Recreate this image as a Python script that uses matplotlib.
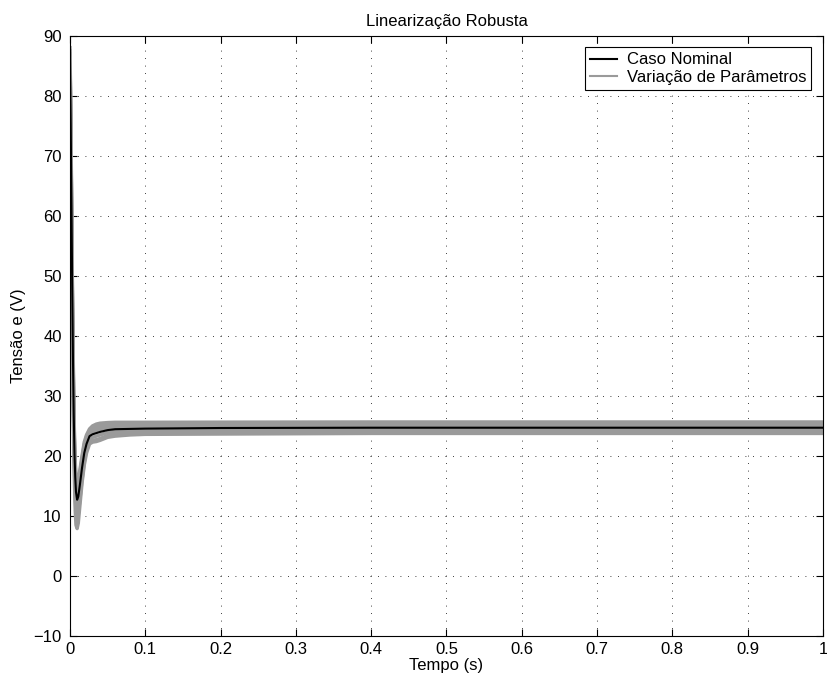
import matplotlib
matplotlib.use('Agg')
import matplotlib.pyplot as plt

plt.rcParams['font.family'] = ['Liberation Sans', 'DejaVu Sans']
plt.rcParams['font.size'] = 12

# tempo (s)
t = [0, 0.001, 0.002, 0.003, 0.004, 0.005, 0.006, 0.007, 0.008, 0.0095, 0.011, 0.013,
     0.016, 0.019, 0.022, 0.026, 0.03, 0.035, 0.04, 0.05, 0.06, 0.08, 0.1, 0.2, 0.4, 1.0]

# caso nominal
nominal = [86, 75, 62, 48, 36, 27, 20.5, 16.5, 14, 12.7, 13.2, 15,
           18, 20.5, 22, 23.3, 23.6, 23.8, 24.0, 24.3, 24.45, 24.5, 24.55, 24.65, 24.7, 24.7]

# variacao de parametros
var1 = [88, 78, 65, 51, 39, 30, 23, 19, 16.5, 15.5, 16, 17.5,
        20, 22.3, 23.5, 24.5, 25, 25.3, 25.45, 25.55, 25.6, 25.6, 25.6, 25.62, 25.65, 25.65]
var2 = [87.5, 77, 64, 50, 38, 29, 22.3, 18.3, 15.8, 14.8, 15.3, 16.9,
        19.5, 21.9, 23.2, 24.2, 24.7, 25.0, 25.15, 25.3, 25.35, 25.35, 25.38, 25.4, 25.4, 25.4]
var3 = [87, 76, 63, 49, 37, 28, 21.5, 17.5, 15, 14, 14.5, 16.3,
        19, 21.4, 22.8, 23.9, 24.3, 24.6, 24.8, 25.0, 25.05, 25.1, 25.1, 25.12, 25.15, 25.15]
var4 = [86.5, 75.5, 62.5, 48.5, 36.5, 27.5, 21, 17, 14.5, 13.3, 13.8, 15.6,
        18.5, 21, 22.4, 23.6, 23.9, 24.2, 24.4, 24.65, 24.75, 24.8, 24.82, 24.85, 24.9, 24.9]
var5 = [85.5, 74, 60.5, 46.5, 34.5, 25.5, 19, 14.8, 12.2, 11.1, 11.7, 13.8,
        17, 19.8, 21.5, 22.9, 23.1, 23.3, 23.5, 23.9, 24.1, 24.2, 24.3, 24.35, 24.45, 24.45]
var6 = [85, 73, 59, 45, 33, 24, 17.5, 13, 10.5, 9.5, 10.2, 12.5,
        16, 19, 21, 22.4, 22.6, 22.7, 22.9, 23.4, 23.7, 23.9, 24.0, 24.05, 24.15, 24.15]
var7 = [84, 72, 57, 43, 31, 22, 15.5, 11, 8.5, 7.9, 8.8, 11.5,
        15.5, 18.5, 20.5, 22, 22.3, 22.4, 22.6, 23.1, 23.3, 23.5, 23.6, 23.65, 23.75, 23.75]

variacoes = [var1, var2, var3, var4, var5, var6, var7]

fig = plt.figure(figsize=(8.27, 6.82), dpi=100)
ax = fig.add_axes([0.0846, 0.0674, 0.9105, 0.8803])

cinza = '#9a9a9a'
for v in variacoes:
    lg, = ax.plot(t, v, color=cinza, lw=2.5)
ln, = ax.plot(t, nominal, color='black', lw=1.5)

ax.set_xlim(0, 1)
ax.set_ylim(-10, 90)
ax.set_xticks([0, 0.1, 0.2, 0.3, 0.4, 0.5, 0.6, 0.7, 0.8, 0.9, 1])
ax.set_xticklabels(['0', '0.1', '0.2', '0.3', '0.4', '0.5', '0.6', '0.7', '0.8', '0.9', '1'])
ax.set_yticks(range(-10, 91, 10))
ax.tick_params(direction='in', top=True, right=True, length=5, width=0.8, pad=4)
ax.tick_params(axis='y', pad=6)
ax.grid(True, color='black', linestyle=(0, (1, 8)), linewidth=0.6)
for s in ax.spines.values():
    s.set_linewidth(0.8)

ax.set_title('Linearização Robusta', fontsize=12, pad=7)
ax.set_xlabel('Tempo (s)', labelpad=1)
ax.set_ylabel('Tensão e (V)', labelpad=5)

leg = ax.legend([ln, lg], ['Caso Nominal', 'Variação de Parâmetros'], loc='upper right',
                fancybox=False, edgecolor='black', framealpha=1, fontsize=12,
                handlelength=1.6, handletextpad=0.6, borderaxespad=0.7,
                borderpad=0.3, labelspacing=0.15)
leg.get_frame().set_linewidth(0.8)
for h in leg.get_lines():
    h.set_linewidth(1.5)

fig.savefig('out.png', dpi=100)
